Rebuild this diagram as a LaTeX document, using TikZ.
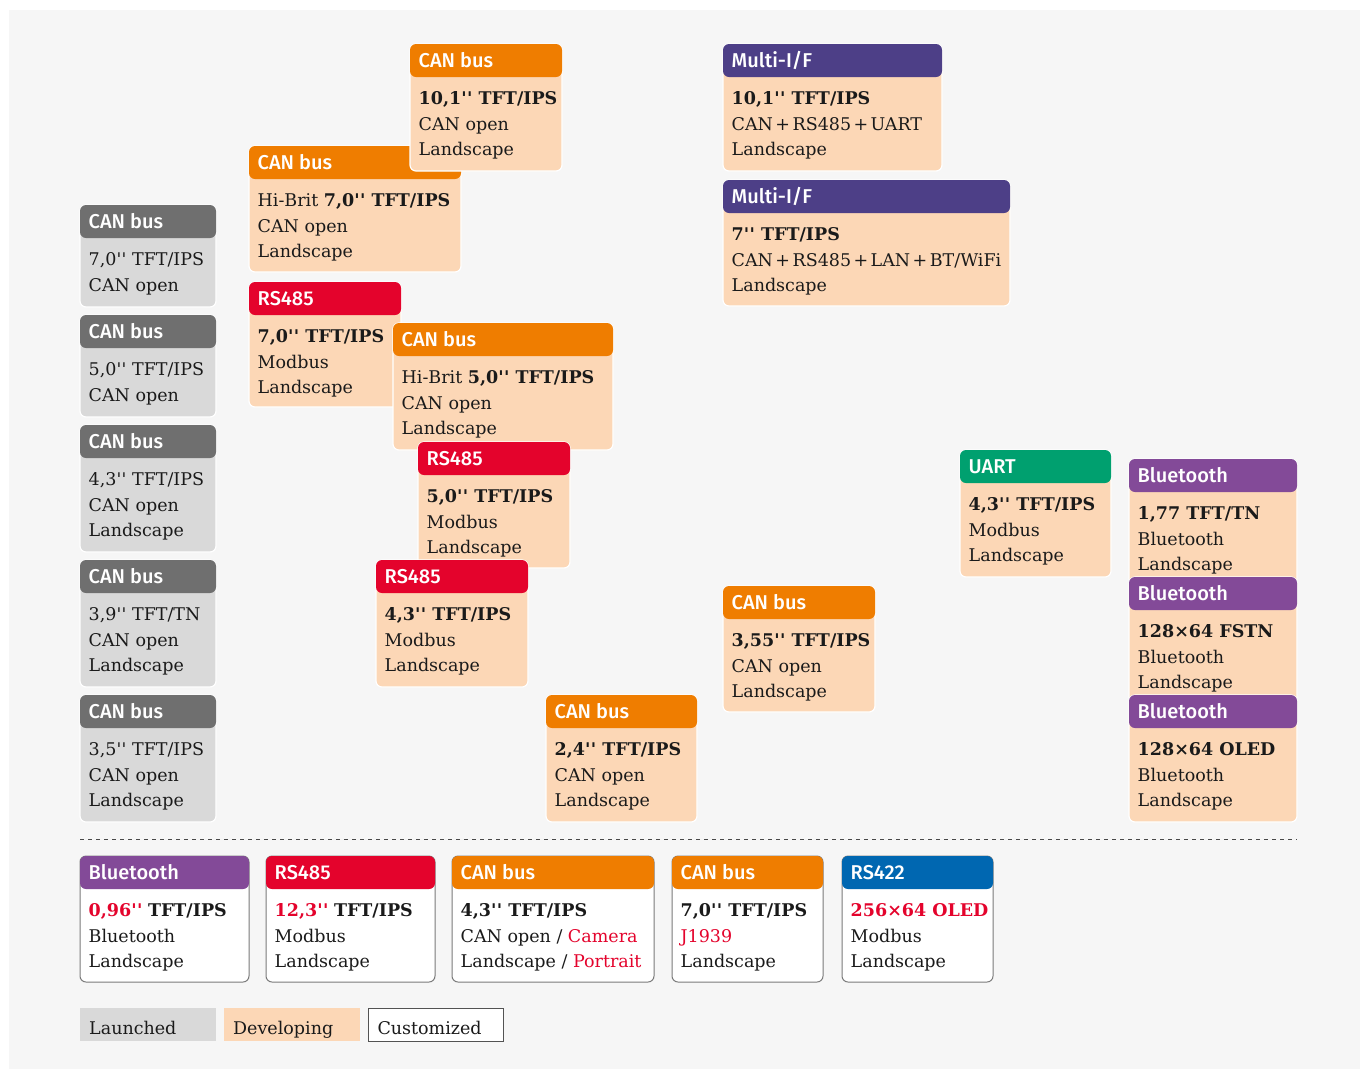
\documentclass[tikz,border=0pt]{standalone}
\usepackage{fontspec}
\setmainfont{DejaVu Serif}
\newfontfamily\bodyfont{DejaVu Serif}
\newfontfamily\headfont{Fira Sans}[UprightFont={* Medium}]

\definecolor{pagebg}{HTML}{F6F6F6}
\definecolor{launchhead}{HTML}{6F6F6F}
\definecolor{launchbody}{HTML}{D9D9D9}
\definecolor{devbody}{HTML}{FCD7B6}
\definecolor{canorange}{HTML}{EF7D00}
\definecolor{rsred}{HTML}{E4032C}
\definecolor{multiviolet}{HTML}{4D3F87}
\definecolor{uartgreen}{HTML}{00A06F}
\definecolor{btpurple}{HTML}{834A98}
\definecolor{rsblue}{HTML}{0067B1}
\definecolor{custline}{HTML}{7A7A7A}
\definecolor{textblack}{HTML}{1A1A1A}

\newcommand\hl[1]{\textcolor{rsred}{#1}}
\newcommand\inch{{\bodyfont\char"27\kern0.4pt\char"27}}
\newcommand\pl{\hspace{0.14em}+\hspace{0.14em}}

% one product card: name, left, top, right, bottom, head colour, body style, head, lines
\newcommand\prodbox[9]{%
  \draw[#7] (#2,#3) rectangle (#4,#5);
  \fill[boxhead,#6] (#2,#3) rectangle (#4,#3+33);
  \node[headtext] (#1-head) at (#2+8.5,#3+23.4) {#8};
  \node[bodytext] (#1-body) at (#2+8.5,#3+47.5) {#9};
}

\tikzset{
  boxlaunch/.style={fill=launchbody, draw=white, line width=1.2pt, rounded corners=6pt},
  boxdev/.style={fill=devbody, draw=white, line width=1.2pt, rounded corners=6pt},
  boxcustom/.style={fill=white, draw=custline, line width=1pt, rounded corners=6pt},
  boxhead/.style={rounded corners=6pt},
  headtext/.style={anchor=base west, inner sep=0pt, text=white,
    font=\headfont\fontsize{20}{24}\selectfont},
  bodytext/.style={anchor=north west, inner sep=0pt, align=left, text=textblack,
    font=\bodyfont\fontsize{17.5}{25.4}\selectfont, execute at begin node={\rule{0pt}{18pt}}},
  legendbox/.style={anchor=north west, minimum height=33pt, text width=118pt,
    inner xsep=9pt, inner ysep=0pt, align=left, text=textblack,
    text height=19pt, text depth=0pt, font=\fontsize{17.5}{21}\selectfont},
}

\begin{document}
\begin{tikzpicture}[x=1pt,y=-1pt]
  \useasboundingbox (0,0) rectangle (1360,1069);
  \fill[white] (0,0) rectangle (1360,1069);
  \fill[pagebg] (9,10) rectangle (1360,1069);

  % launched
  \prodbox{l70}{80}{205}{216}{307}{launchhead}{boxlaunch}{CAN bus}{7,0\inch{} TFT/IPS\\CAN open}
  \prodbox{l50}{80}{315}{216}{417}{launchhead}{boxlaunch}{CAN bus}{5,0\inch{} TFT/IPS\\CAN open}
  \prodbox{l43}{80}{425}{216}{552}{launchhead}{boxlaunch}{CAN bus}{4,3\inch{} TFT/IPS\\CAN open\\Landscape}
  \prodbox{l39}{80}{560}{216}{687}{launchhead}{boxlaunch}{CAN bus}{3,9\inch{} TFT/TN\\CAN open\\Landscape}
  \prodbox{l35}{80}{695}{216}{822}{launchhead}{boxlaunch}{CAN bus}{3,5\inch{} TFT/IPS\\CAN open\\Landscape}

  % developing
  \prodbox{hb70}{249}{146}{461}{272}{canorange}{boxdev}{CAN bus}{Hi-Brit \textbf{7,0\inch{} TFT/IPS}\\CAN open\\Landscape}
  \prodbox{c101}{410}{44}{562}{171}{canorange}{boxdev}{CAN bus}{\textbf{10,1\inch{} TFT/IPS}\\CAN open\\Landscape}
  \prodbox{r70}{249}{282}{401}{407}{rsred}{boxdev}{RS485}{\textbf{7,0\inch{} TFT/IPS}\\Modbus\\Landscape}
  \prodbox{hb50}{393}{323}{613}{450}{canorange}{boxdev}{CAN bus}{Hi-Brit \textbf{5,0\inch{} TFT/IPS}\\CAN open\\Landscape}
  \prodbox{r50}{418}{442}{570}{568}{rsred}{boxdev}{RS485}{\textbf{5,0\inch{} TFT/IPS}\\Modbus\\Landscape}
  \prodbox{r43}{376}{560}{528}{687}{rsred}{boxdev}{RS485}{\textbf{4,3\inch{} TFT/IPS}\\Modbus\\Landscape}
  \prodbox{c24}{546}{695}{697}{822}{canorange}{boxdev}{CAN bus}{\textbf{2,4\inch{} TFT/IPS}\\CAN open\\Landscape}
  \prodbox{c355}{723}{586}{875}{712}{canorange}{boxdev}{CAN bus}{\textbf{3,55\inch{} TFT/IPS}\\CAN open\\Landscape}
  \prodbox{m101}{723}{44}{942}{171}{multiviolet}{boxdev}{Multi-I/F}{\textbf{10,1\inch{} TFT/IPS}\\CAN\pl RS485\pl UART\\Landscape}
  \prodbox{m70}{723}{180}{1010}{306}{multiviolet}{boxdev}{Multi-I/F}{\textbf{7\inch{} TFT/IPS}\\CAN\pl RS485\pl LAN\pl BT/WiFi\\Landscape}
  \prodbox{u43}{960}{450}{1111}{577}{uartgreen}{boxdev}{UART}{\textbf{4,3\inch{} TFT/IPS}\\Modbus\\Landscape}
  \prodbox{b177}{1129}{459}{1297}{585}{btpurple}{boxdev}{Bluetooth}{\textbf{1,77 TFT/TN}\\Bluetooth\\Landscape}
  \prodbox{b128f}{1129}{577}{1297}{703}{btpurple}{boxdev}{Bluetooth}{\textbf{128×64 FSTN}\\Bluetooth\\Landscape}
  \prodbox{b128o}{1129}{695}{1297}{822}{btpurple}{boxdev}{Bluetooth}{\textbf{128×64 OLED}\\Bluetooth\\Landscape}

  % divider
  \coordinate (divl) at (80,839);
  \coordinate (divr) at (1297,839);
  \draw[textblack!80, line width=1pt, dash pattern=on 4pt off 4pt] (divl) -- (divr);

  % customized
  \prodbox{x096}{80}{856}{249}{982}{btpurple}{boxcustom}{Bluetooth}{\hl{\textbf{0,96\inch}} \textbf{TFT/IPS}\\Bluetooth\\Landscape}
  \prodbox{x123}{266}{856}{435}{982}{rsred}{boxcustom}{RS485}{\hl{\textbf{12,3\inch}} \textbf{TFT/IPS}\\Modbus\\Landscape}
  \prodbox{x43}{452}{856}{654}{982}{canorange}{boxcustom}{CAN bus}{\textbf{4,3\inch{} TFT/IPS}\\CAN open / \hl{Camera}\\Landscape / \hl{Portrait}}
  \prodbox{x70}{672}{856}{823}{982}{canorange}{boxcustom}{CAN bus}{\textbf{7,0\inch{} TFT/IPS}\\\hl{J1939}\\Landscape}
  \prodbox{x256}{842}{856}{993}{982}{rsblue}{boxcustom}{RS422}{\hl{\textbf{256×64 OLED}}\\Modbus\\Landscape}

  % legend
  \node[legendbox, fill=launchbody] (launched) at (80,1008) {Launched};
  \node[legendbox, fill=devbody] (developing) at (224,1008) {Developing};
  \node[legendbox, fill=white, draw=textblack!75, line width=1pt, text width=117pt] (customized) at (368,1008) {Customized};
\end{tikzpicture}
\end{document}
